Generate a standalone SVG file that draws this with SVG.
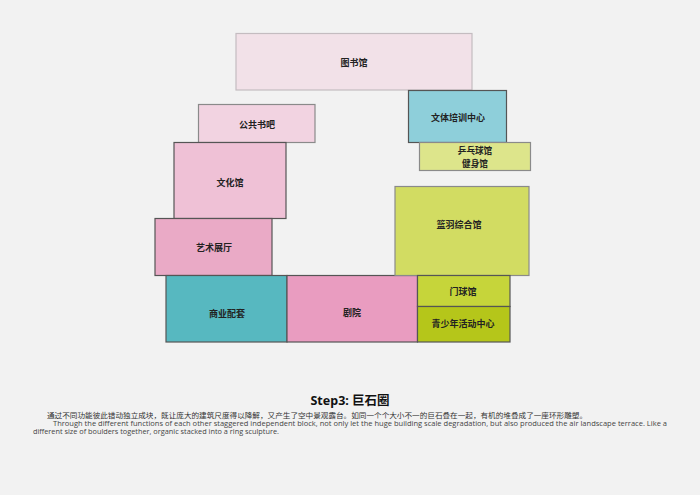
<svg xmlns="http://www.w3.org/2000/svg" width="700" height="495" viewBox="0 0 700 495">
<style>
.b{stroke-width:1.2}
.lt{stroke:#c4bcc0}
.dk{stroke:#555555}
.md{stroke:#8a8a8a}
.l{font-family:"Noto Sans CJK SC","Noto Sans",sans-serif;font-size:9px;font-weight:bold;fill:#222;text-anchor:middle;dominant-baseline:central}
.t{font-family:"Noto Sans","Noto Sans CJK SC",sans-serif;font-size:12.5px;font-weight:bold;fill:#111;text-anchor:middle}
.c{font-family:"Noto Sans CJK SC",sans-serif;font-size:7px;fill:#333}
.e{font-family:"Open Sans","Noto Sans",sans-serif;font-size:7px;fill:#444}
</style>
<rect x="0" y="0" width="700" height="495" fill="#f2f2f2"/>
<g id="connectors"></g>
<g id="n-library"><rect class="b lt" x="236" y="33.5" width="236" height="56.5" fill="#f2e1e8"/><text class="l" x="354" y="62">图书馆</text></g>
<g id="n-bookbar"><rect class="b md" x="198.5" y="104.5" width="116.5" height="38" fill="#f2d3e1"/><text class="l" x="257" y="124">公共书吧</text></g>
<g id="n-culture"><rect class="b dk" x="174" y="142.5" width="112" height="76" fill="#efc1d6"/><text class="l" x="230" y="182">文化馆</text></g>
<g id="n-art"><rect class="b dk" x="155" y="218.5" width="117" height="57" fill="#eaaac6"/><text class="l" x="214" y="247">艺术展厅</text></g>
<g id="n-commerce"><rect class="b dk" x="166" y="275.5" width="121" height="66.5" fill="#57b8c0"/><text class="l" x="227" y="313">商业配套</text></g>
<g id="n-theater"><rect class="b dk" x="287" y="275.5" width="130.5" height="66.5" fill="#e99cc0"/><text class="l" x="352" y="312">剧院</text></g>
<g id="n-sports"><rect class="b md" x="395" y="186.5" width="134" height="89" fill="#d2dc62"/><text class="l" x="459" y="224">篮羽综合馆</text></g>
<g id="n-gateball"><rect class="b dk" x="417.5" y="275.5" width="92.5" height="31" fill="#c6d53a"/><text class="l" x="463" y="291">门球馆</text></g>
<g id="n-youth"><rect class="b dk" x="417.5" y="306.5" width="92.5" height="35.5" fill="#b5c61a"/><text class="l" x="463" y="323">青少年活动中心</text></g>
<g id="n-training"><rect class="b dk" x="408.5" y="90.5" width="98" height="52" fill="#8ecfda"/><text class="l" x="458" y="117">文体培训中心</text></g>
<g id="n-pingpong"><rect class="b md" x="419.5" y="142.5" width="111" height="28" fill="#dde58b"/><text class="l" x="475" y="150.3" style="font-size:8.6px">乒乓球馆</text><text class="l" x="475" y="162.7" style="font-size:8.6px">健身馆</text></g>
<text class="t" x="350" y="405">Step3: 巨石圈</text>
<text class="c" x="47" y="417.5" textLength="540" lengthAdjust="spacingAndGlyphs">通过不同功能彼此错动独立成块，既让庞大的建筑尺度得以降解，又产生了空中景观露台。如同一个个大小不一的巨石叠在一起，有机的堆叠成了一座环形雕塑。</text>
<text class="e" x="53" y="425.5" textLength="614" lengthAdjust="spacingAndGlyphs">Through the different functions of each other staggered independent block, not only let the huge building scale degradation, but also produced the air landscape terrace. Like a</text>
<text class="e" x="33" y="433.5" textLength="246" lengthAdjust="spacingAndGlyphs">different size of boulders together, organic stacked into a ring sculpture.</text>
</svg>
